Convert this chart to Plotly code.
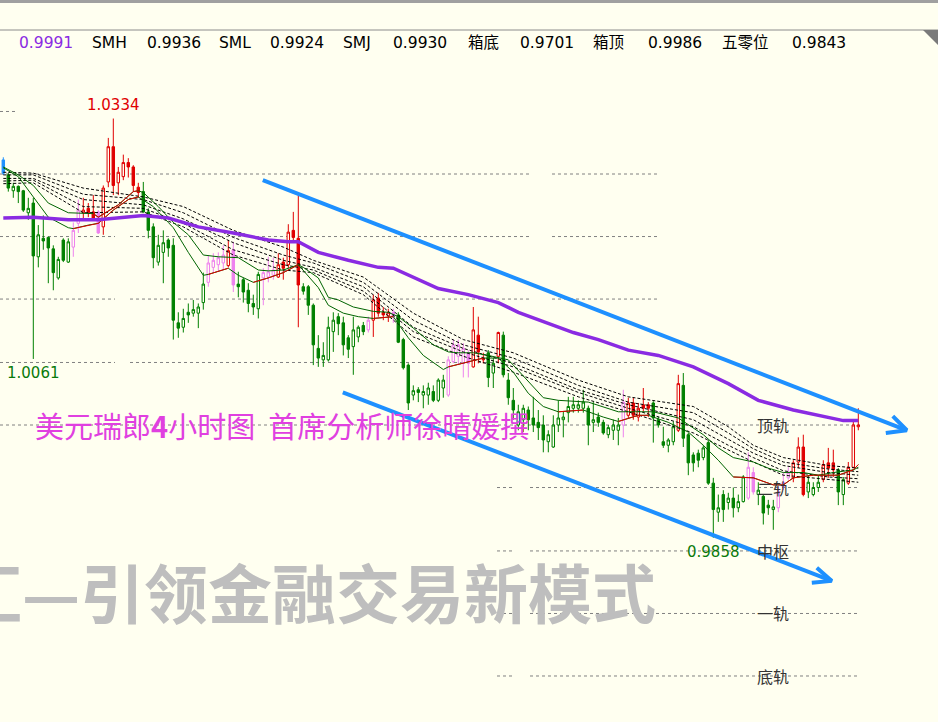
import plotly.graph_objects as go

# ---------------- data (USD/CHF 4H) ----------------
open_ = [1.0287,1.0270,1.0252,1.0257,1.0252,1.0227,1.0238,1.0177,1.0198,1.0199,
         1.0186,1.0153,1.0196,1.0171,1.0188,1.0215,1.0227,1.0232,1.0228,1.0228,
         1.0211,1.0262,1.0302,1.0261,1.0268,1.0284,1.0279,1.0256,1.0251,1.0228,
         1.0211,1.0171,1.0182,1.0196,1.0190,1.0102,1.0097,1.0114,1.0113,1.0113,
         1.0125,1.0148,1.0165,1.0168,1.0170,1.0167,1.0185,1.0146,1.0151,1.0139,
         1.0124,1.0118,1.0153,1.0154,1.0156,1.0154,1.0171,1.0168,1.0207,1.0198,
         1.0143,1.0143,1.0122,1.0073,1.0060,1.0060,1.0092,1.0109,1.0102,1.0085,
         1.0075,1.0086,1.0099,1.0094,1.0105,1.0130,1.0114,1.0110,1.0114,1.0111,
         1.0083,1.0054,1.0020,1.0026,1.0020,1.0020,1.0024,1.0014,1.0028,1.0020,
         1.0058,1.0064,1.0056,1.0068,1.0052,1.0088,1.0062,1.0068,1.0045,1.0064,
         1.0088,1.0037,1.0014,0.9986,0.9992,1.0003,0.9994,0.9989,0.9986,0.9967,
         0.9961,0.9986,0.9992,1.0000,1.0005,1.0005,1.0005,1.0005,0.9989,0.9995,
         0.9989,0.9975,0.9980,0.9980,0.9986,0.9997,1.0011,0.9995,1.0009,1.0009,
         1.0011,0.9992,0.9967,0.9963,0.9967,0.9980,1.0031,0.9975,0.9952,0.9954,
         0.9949,0.9966,0.9920,0.9887,0.9907,0.9898,0.9903,0.9892,0.9899,0.9903,
         0.9932,0.9907,0.9905,0.9895,0.9890,0.9892,0.9916,0.9926,0.9926,0.9944,
         0.9961,0.9910,0.9907,0.9915,0.9924,0.9943,0.9943,0.9935,0.9907,0.9920,
         0.9938,0.9984]
high = [1.0290,1.0272,1.0261,1.0258,1.0253,1.0244,1.0244,1.0213,1.0224,1.0200,
        1.0190,1.0177,1.0198,1.0198,1.0216,1.0242,1.0244,1.0238,1.0247,1.0230,
        1.0258,1.0312,1.0334,1.0279,1.0293,1.0289,1.0281,1.0261,1.0262,1.0232,
        1.0215,1.0202,1.0207,1.0198,1.0198,1.0114,1.0118,1.0124,1.0128,1.0124,
        1.0159,1.0179,1.0181,1.0182,1.0190,1.0196,1.0194,1.0160,1.0153,1.0147,
        1.0134,1.0160,1.0164,1.0177,1.0176,1.0181,1.0176,1.0214,1.0228,1.0247,
        1.0147,1.0145,1.0124,1.0088,1.0080,1.0109,1.0114,1.0113,1.0109,1.0088,
        1.0109,1.0099,1.0103,1.0109,1.0134,1.0136,1.0120,1.0118,1.0118,1.0114,
        1.0085,1.0056,1.0031,1.0029,1.0031,1.0034,1.0031,1.0039,1.0043,1.0064,
        1.0083,1.0083,1.0079,1.0071,1.0120,1.0109,1.0068,1.0071,1.0062,1.0092,
        1.0092,1.0045,1.0028,1.0009,1.0009,1.0007,1.0018,1.0003,0.9997,0.9980,
        0.9997,1.0014,1.0001,1.0018,1.0018,1.0014,1.0026,1.0008,1.0012,1.0000,
        0.9992,0.9986,0.9992,0.9994,1.0026,1.0017,1.0017,1.0011,1.0028,1.0012,
        1.0013,0.9995,0.9984,0.9971,0.9990,1.0043,1.0045,0.9977,0.9955,0.9958,
        0.9963,0.9969,0.9926,0.9907,0.9912,0.9909,0.9915,0.9907,0.9929,0.9955,
        0.9938,0.9921,0.9907,0.9901,0.9901,0.9916,0.9933,0.9938,0.9946,0.9972,
        0.9975,0.9929,0.9921,0.9929,0.9946,0.9960,0.9958,0.9937,0.9927,0.9944,
        0.9992,1.0005]
low = [1.0270,1.0251,1.0244,1.0238,1.0228,1.0219,1.0061,1.0165,1.0185,1.0147,
       1.0139,1.0151,1.0171,1.0170,1.0177,1.0204,1.0219,1.0222,1.0219,1.0203,
       1.0202,1.0256,1.0247,1.0247,1.0264,1.0267,1.0251,1.0244,1.0227,1.0198,
       1.0164,1.0167,1.0147,1.0177,1.0083,1.0085,1.0091,1.0102,1.0109,1.0096,
       1.0117,1.0143,1.0159,1.0160,1.0162,1.0165,1.0137,1.0131,1.0125,1.0114,
       1.0111,1.0107,1.0122,1.0148,1.0151,1.0153,1.0151,1.0164,1.0193,1.0097,
       1.0134,1.0111,1.0054,1.0052,1.0052,1.0058,1.0069,1.0088,1.0065,1.0062,
       1.0043,1.0080,1.0088,1.0091,1.0086,1.0109,1.0105,1.0103,1.0102,1.0079,
       1.0049,1.0003,1.0014,1.0012,1.0005,1.0009,1.0012,1.0012,1.0017,1.0018,
       1.0056,1.0054,1.0040,1.0040,1.0051,1.0056,1.0056,1.0029,1.0028,1.0056,
       1.0040,1.0009,0.9992,0.9980,0.9978,0.9980,0.9978,0.9969,0.9955,0.9955,
       0.9960,0.9978,0.9972,0.9989,1.0000,1.0000,1.0000,0.9963,0.9978,0.9984,
       0.9975,0.9971,0.9969,0.9963,0.9972,0.9994,0.9992,0.9990,1.0001,0.9995,
       0.9966,0.9983,0.9960,0.9955,0.9963,0.9978,0.9961,0.9929,0.9933,0.9938,
       0.9946,0.9918,0.9858,0.9876,0.9876,0.9890,0.9881,0.9887,0.9898,0.9901,
       0.9907,0.9895,0.9873,0.9884,0.9867,0.9887,0.9912,0.9924,0.9921,0.9937,
       0.9905,0.9903,0.9905,0.9910,0.9921,0.9926,0.9927,0.9895,0.9895,0.9918,
       0.9937,0.9980]
close = [1.0272,1.0255,1.0257,1.0251,1.0230,1.0232,1.0178,1.0202,1.0195,1.0187,
         1.0159,1.0174,1.0173,1.0194,1.0207,1.0230,1.0230,1.0227,1.0221,1.0204,
         1.0255,1.0302,1.0258,1.0273,1.0284,1.0279,1.0258,1.0250,1.0228,1.0207,
         1.0176,1.0190,1.0193,1.0187,1.0105,1.0096,1.0107,1.0111,1.0117,1.0120,
         1.0146,1.0170,1.0173,1.0176,1.0179,1.0184,1.0145,1.0143,1.0137,1.0124,
         1.0120,1.0157,1.0159,1.0160,1.0162,1.0168,1.0164,1.0205,1.0199,1.0145,
         1.0138,1.0122,1.0077,1.0062,1.0065,1.0097,1.0105,1.0101,1.0077,1.0072,
         1.0094,1.0097,1.0092,1.0105,1.0128,1.0113,1.0111,1.0114,1.0109,1.0080,
         1.0051,1.0011,1.0025,1.0023,1.0024,1.0028,1.0014,1.0037,1.0037,1.0060,
         1.0077,1.0077,1.0073,1.0056,1.0094,1.0069,1.0060,1.0040,1.0056,1.0091,
         1.0043,1.0017,1.0003,1.0001,1.0005,0.9992,0.9986,0.9983,0.9969,0.9975,
         0.9986,0.9994,0.9995,1.0007,1.0009,1.0009,1.0012,0.9986,0.9992,0.9989,
         0.9977,0.9983,0.9986,0.9986,1.0012,1.0011,0.9997,1.0005,1.0005,1.0005,
         0.9994,0.9986,0.9963,0.9969,0.9984,1.0033,0.9971,0.9943,0.9943,0.9946,
         0.9960,0.9920,0.9890,0.9892,0.9890,0.9903,0.9892,0.9899,0.9927,0.9938,
         0.9910,0.9912,0.9886,0.9892,0.9893,0.9910,0.9921,0.9932,0.9943,0.9961,
         0.9907,0.9921,0.9915,0.9921,0.9941,0.9937,0.9935,0.9910,0.9924,0.9938,
         0.9986,0.9986]
# bar colour class from the trend indicator: b=selected, g=green, p=pink, r=red
bar_class = ("b" + "g"*13 + "pp" + "rrr" + "p" + "r"*8 + "g"*13 + "pppp" + "r" + "p"
             + "g"*5 + "ppp" + "r"*5 + "g"*13 + "p" + "rrrr" + "p" + "g"*10 + "ppppp"
             + "rrr" + "gg" + "r" + "g"*24 + "p" + "r"*5 + "g"*5 + "r" + "g"*13 + "pp"
             + "gggg" + "ppp" + "rrr" + "ggg" + "rrr" + "gg" + "rrr")

# long moving average (purple)
ma_idx = [0,6,13,19,28,33,39,46,53,57,59,63,69,75,78,82,87,93,99,103,109,114,119,125,131,138,145,151,158,165,168,171]
ma_val = [1.0221,1.0222,1.0219,1.0219,1.0224,1.0221,1.0211,1.0204,1.0196,1.0194,1.0194,1.0182,1.0173,1.0165,1.0164,
          1.0154,1.0141,1.0134,1.0125,1.0114,1.0102,1.0091,1.0083,1.0071,1.0065,1.0052,1.0033,1.0014,1.0003,0.9995,0.9991,0.9991]
# fast / slow thin averages
g1_idx = [0,3,6,9,13,14,17,19,22,25,27,30,33,34,37,40,41,45,47,50,53,56,59,63,65,68,71,74,78,81,84,88,89,92,96,99,
          102,105,108,111,116,120,123,127,129,133,137,140,143,146,150,154,156,158,162,167,170,171]
g1_val = [1.0278,1.0268,1.0245,1.0222,1.0210,1.0209,1.0213,1.0215,1.0230,1.0242,1.0245,1.0234,1.0216,1.0210,1.0182,
          1.0156,1.0157,1.0164,1.0156,1.0148,1.0153,1.0159,1.0168,1.0142,1.0122,1.0113,1.0109,1.0107,1.0109,1.0085,
          1.0065,1.0049,1.0052,1.0056,1.0062,1.0062,1.0046,1.0022,1.0007,1.0001,1.0003,0.9995,0.9990,0.9997,0.9997,
          0.9989,0.9978,0.9963,0.9946,0.9927,0.9926,0.9918,0.9918,0.9926,0.9929,0.9929,0.9935,0.9941]
g1_red = [(14,27),(41,45),(50,59),(74,78),(89,96),(111,116),(123,129),(146,171)]
g2_idx = [0,3,6,9,13,18,19,23,26,27,28,31,34,37,40,43,47,51,53,56,59,60,63,65,67,70,74,77,79,82,86,89,91,94,97,101,
          102,105,108,111,117,123,130,135,137,140,143,146,150,153,156,160,163,166,170,171]
g2_val = [1.0279,1.0270,1.0258,1.0238,1.0227,1.0226,1.0222,1.0236,1.0251,1.0252,1.0250,1.0234,1.0216,1.0202,1.0179,
          1.0177,1.0176,1.0162,1.0161,1.0162,1.0168,1.0165,1.0153,1.0131,1.0128,1.0120,1.0115,1.0114,1.0109,1.0096,
          1.0077,1.0069,1.0068,1.0068,1.0065,1.0060,1.0054,1.0035,1.0017,1.0014,1.0012,1.0001,1.0001,0.9994,0.9986,
          0.9975,0.9960,0.9949,0.9944,0.9937,0.9932,0.9932,0.9929,0.9932,0.9935,0.9938]
g2_red = [(18,27)]
# dashed ribbon of averages
rib_idx = [0,6,16,28,36,46,56,62,72,82,92,102,115,125,138,145,150,156,165,171]
rib = [
    [1.0273,1.0272,1.0255,1.0245,1.0234,1.0207,1.0188,1.0173,1.0154,1.0113,1.0083,1.0068,1.0037,1.0018,1.0007,0.9984,0.9963,0.9949,0.9940,0.9937],
    [1.0270,1.0270,1.0248,1.0242,1.0227,1.0199,1.0179,1.0170,1.0148,1.0105,1.0077,1.0062,1.0031,1.0012,1.0000,0.9977,0.9959,0.9944,0.9936,0.9933],
    [1.0266,1.0266,1.0242,1.0236,1.0220,1.0193,1.0173,1.0165,1.0143,1.0097,1.0073,1.0056,1.0026,1.0009,0.9992,0.9970,0.9954,0.9940,0.9932,0.9929],
    [1.0263,1.0264,1.0234,1.0232,1.0215,1.0185,1.0168,1.0162,1.0138,1.0092,1.0069,1.0052,1.0023,1.0005,0.9984,0.9963,0.9949,0.9934,0.9927,0.9925],
    [1.0260,1.0261,1.0227,1.0228,1.0211,1.0179,1.0162,1.0159,1.0134,1.0086,1.0064,1.0046,1.0018,1.0001,0.9977,0.9958,0.9944,0.9929,0.9924,0.9921],
]
# box levels
levels = [0.9701, 0.9772, 0.9843, 0.9915, 0.9986, 1.0057, 1.0129, 1.0200, 1.0271, 1.0342]
rail_labels = ["底轨", "一轨", "中枢", "二轨", "顶轨"]
# channel trend lines (bar index, price)
upper_trend = [(51.9, 1.0264), (180.7, 0.9980)]
upper_head = [(177.9, 0.9996), (180.7, 0.9980), (176.5, 0.9977)]
lower_trend = [(67.9, 1.0023), (165.7, 0.9809)]
lower_head = [(162.7, 0.9824), (165.7, 0.9809), (161.7, 0.9807)]
high_label = (22, 1.0334)
low_labels = [(6, 1.0061), (142, 0.9858)]
header = [("0.9991", '#8A2BE2'), ("SMH", '#000'), ("0.9936", '#000'), ("SML", '#000'), ("0.9924", '#000'),
          ("SMJ", '#000'), ("0.9930", '#000'), ("箱底", '#000'), ("0.9701", '#000'), ("箱顶", '#000'),
          ("0.9986", '#000'), ("五零位", '#000'), ("0.9843", '#000')]
header_x = [17, 90, 145, 217, 268, 341, 391, 466, 518, 591, 646, 720, 790]

# ---------------- figure ----------------
W, H, TOP = 938, 722, 30
BG = '#FFFFF0'
COL = {'r': '#E00000', 'g': '#008000', 'p': '#EE82EE', 'b': '#1E90FF'}

fig = go.Figure()
idx = list(range(len(open_)))

for cls, col in COL.items():
    sel = [i for i in idx if bar_class[i] == cls]
    fig.add_trace(go.Candlestick(
        x=sel, open=[open_[i] for i in sel], high=[high[i] for i in sel],
        low=[low[i] for i in sel], close=[close[i] for i in sel],
        increasing=dict(line=dict(color=col, width=1), fillcolor=BG),
        decreasing=dict(line=dict(color=col, width=1), fillcolor=col),
        whiskerwidth=0, hoverinfo='skip', showlegend=False))

for r in rib:
    fig.add_trace(go.Scatter(x=rib_idx, y=r, mode='lines', hoverinfo='skip', showlegend=False,
                             line=dict(color='#000000', width=1, dash='3px,2px')))

def add_ma(ix, val, reds, green='#006400'):
    fig.add_trace(go.Scatter(x=ix, y=val, mode='lines', hoverinfo='skip', showlegend=False,
                             line=dict(color=green, width=1)))
    for a, b in reds:
        xs = [x for x in ix if a <= x <= b]
        ys = [v for x, v in zip(ix, val) if a <= x <= b]
        fig.add_trace(go.Scatter(x=xs, y=ys, mode='lines', hoverinfo='skip', showlegend=False,
                                 line=dict(color='#E00000', width=1)))

add_ma(g2_idx, g2_val, g2_red)
add_ma(g1_idx, g1_val, g1_red)

fig.add_trace(go.Scatter(x=ma_idx, y=ma_val, mode='lines', hoverinfo='skip', showlegend=False,
                         line=dict(color='#8A2BE2', width=3.5)))

for seg in (upper_trend, upper_head, lower_trend, lower_head):
    fig.add_trace(go.Scatter(x=[p[0] for p in seg], y=[p[1] for p in seg], mode='lines',
                             hoverinfo='skip', showlegend=False,
                             line=dict(color='#1E90FF', width=4)))

shapes = []
spans_px = {0: [(497, 513), (530, 860)], 1: [(497, 513), (530, 860)], 2: [(497, 513), (530, 860)],
            3: [(497, 513), (530, 860)], 4: [(0, 860)],
            5: [(0, 115), (130, 530), (552, 660)], 6: [(0, 115), (130, 530), (552, 660)],
            7: [(0, 115), (130, 530), (552, 660)], 8: [(0, 115), (130, 530), (552, 660)],
            9: [(0, 15)]}
for k, lv in enumerate(levels):
    for a, b in spans_px[k]:
        shapes.append(dict(type='line', xref='paper', yref='y', x0=a / W, x1=b / W, y0=lv, y1=lv,
                           layer='below', line=dict(color='#808080', width=1, dash='3px,3px')))
ph = H - TOP
shapes.append(dict(type='line', xref='paper', yref='paper', x0=0, x1=1, y0=1, y1=1,
                   line=dict(color='#8C8C8C', width=1)))
shapes.append(dict(type='line', xref='paper', yref='paper', x0=0, x1=1, y0=1 + 28.5 / ph, y1=1 + 28.5 / ph,
                   line=dict(color='#A0A0A0', width=3)))
shapes.append(dict(type='path', xref='paper', yref='paper',
                   path=f'M {923/W} 1 L 1 1 L 1 {1-15/ph} Z', fillcolor='#7A7A7A', line=dict(width=0)))

ann = []
for (t, c), xp in zip(header, header_x):
    ann.append(dict(text=t, x=xp / W, y=(H - 43) / ph, xref='paper', yref='paper', xanchor='left',
                    yanchor='middle', showarrow=False,
                    font=dict(family='DejaVu Sans, Noto Sans CJK SC', size=15.5, color=c)))
ann.append(dict(text=f'{high_label[1]:.4f}', x=high_label[0], y=high_label[1], xref='x', yref='y',
                yanchor='bottom', yshift=3, showarrow=False,
                font=dict(family='DejaVu Sans', size=15, color='#E00000')))
for xi, v in low_labels:
    ann.append(dict(text=f'{v:.4f}', x=xi, y=v, xref='x', yref='y', yanchor='top', yshift=-3,
                    showarrow=False, font=dict(family='DejaVu Sans', size=15, color='#0A7A0A')))
for lv, t in zip(levels, rail_labels):
    ann.append(dict(text=t, x=773 / W, y=lv, xref='paper', yref='y', xanchor='center', yanchor='middle',
                    showarrow=False, font=dict(family='Noto Sans CJK SC', size=16, color='#333333')))
ann.append(dict(text='美元瑞郎<b>4</b>小时图\u00a0\u00a0首席分析师徐晴媛撰', x=33 / W, y=(H - 425) / ph,
                xref='paper', yref='paper', xanchor='left', yanchor='middle', showarrow=False,
                font=dict(family='Noto Sans CJK SC', size=29, color='#E040E0')))
ann.append(dict(text='汇—引领金融交易新模式', x=658 / W, y=(H - 590) / ph, xref='paper', yref='paper',
                xanchor='right', yanchor='middle', showarrow=False,
                font=dict(family='Noto Sans CJK SC', size=64, color='#BEBEBE', weight=700)))

fig.update_layout(
    width=W, height=H, margin=dict(l=0, r=0, t=TOP, b=0),
    paper_bgcolor=BG, plot_bgcolor=BG, showlegend=False,
    xaxis=dict(range=[-0.66, 186.94], visible=False, rangeslider=dict(visible=False), fixedrange=True),
    yaxis=dict(range=[0.964876, 1.043452], visible=False, fixedrange=True),
    shapes=shapes, annotations=ann,
)
fig.write_html("out.html", config={'displayModeBar': False},
               post_script="document.body.style.margin='0';document.body.style.overflow='hidden';")
